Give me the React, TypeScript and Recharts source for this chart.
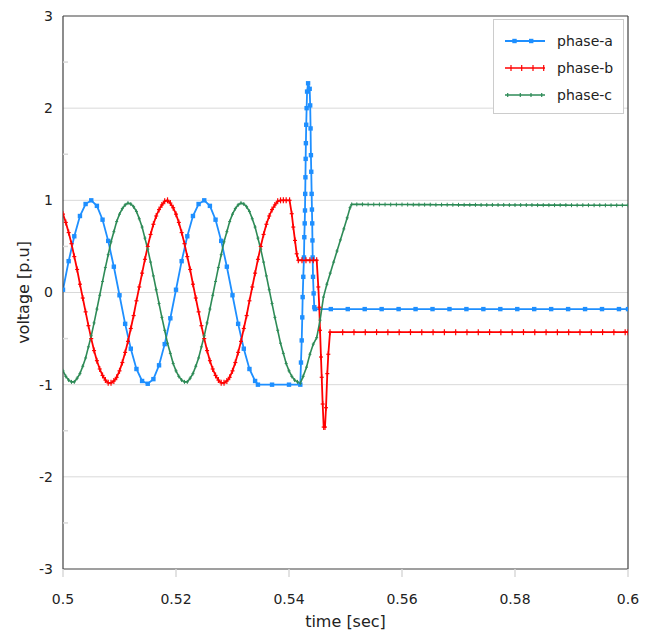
import { LineChart, Line, XAxis, YAxis, CartesianGrid, ReferenceLine, Legend } from 'recharts';

// [time (s), voltage (p.u)] samples
const phaseA: [number, number][] = [
  [0.500, 0.03], [0.501, 0.34], [0.502, 0.61], [0.503, 0.83], [0.504, 0.96],
  [0.505, 1.00], [0.506, 0.94], [0.507, 0.79], [0.508, 0.56], [0.509, 0.28],
  [0.510, -0.03], [0.511, -0.34], [0.512, -0.61], [0.513, -0.83], [0.514, -0.96],
  [0.515, -0.99], [0.516, -0.94], [0.517, -0.79], [0.518, -0.56], [0.519, -0.28],
  [0.520, 0.03], [0.521, 0.34], [0.522, 0.61], [0.523, 0.83], [0.524, 0.96],
  [0.525, 1.00], [0.526, 0.94], [0.527, 0.79], [0.528, 0.56], [0.529, 0.28],
  [0.530, -0.03], [0.531, -0.34], [0.532, -0.61], [0.533, -0.83], [0.534, -0.96],
  [0.5345, -1.0], [0.537, -1.0], [0.540, -1.0], [0.542, -1.0],
  [0.54212, -0.76], [0.54225, -0.52], [0.54235, -0.27], [0.54242, -0.05], [0.54253, 0.17],
  [0.54265, 0.38], [0.54271, 0.60], [0.54278, 0.75], [0.54283, 0.89], [0.54287, 1.07],
  [0.54291, 1.25], [0.54295, 1.45], [0.54299, 1.62], [0.54305, 1.82], [0.54312, 2.0],
  [0.5432, 2.18], [0.54338, 2.27], [0.54366, 2.21], [0.54375, 2.03], [0.54382, 1.78],
  [0.54388, 1.49], [0.54394, 1.31], [0.54401, 1.07], [0.54406, 0.9], [0.54411, 0.75],
  [0.54415, 0.565], [0.54419, 0.38], [0.54425, 0.17], [0.54436, -0.01], [0.54448, -0.16],
  [0.5446, -0.18], [0.5474, -0.18], [0.5504, -0.18], [0.5534, -0.18], [0.5564, -0.18],
  [0.5594, -0.18], [0.5624, -0.18], [0.5654, -0.18], [0.5684, -0.18], [0.5714, -0.18],
  [0.5744, -0.18], [0.5774, -0.18], [0.5804, -0.18], [0.5834, -0.18], [0.5864, -0.18],
  [0.5894, -0.18], [0.5924, -0.18], [0.5954, -0.18], [0.5984, -0.18], [0.6, -0.18],
];

const phaseB: [number, number][] = [
  [0.5000, 0.85], [0.5005, 0.76], [0.5010, 0.65], [0.5015, 0.53], [0.5020, 0.39],
  [0.5025, 0.25], [0.5030, 0.09], [0.5035, -0.06], [0.5040, -0.21], [0.5045, -0.36],
  [0.5050, -0.50], [0.5055, -0.63], [0.5060, -0.74], [0.5065, -0.83], [0.5070, -0.90],
  [0.5075, -0.95], [0.5080, -0.98], [0.5085, -0.98], [0.5090, -0.96], [0.5095, -0.92],
  [0.5100, -0.85], [0.5105, -0.76], [0.5110, -0.65], [0.5115, -0.53], [0.5120, -0.39],
  [0.5125, -0.25], [0.5130, -0.09], [0.5135, 0.06], [0.5140, 0.21], [0.5145, 0.36],
  [0.5150, 0.50], [0.5155, 0.63], [0.5160, 0.74], [0.5165, 0.83], [0.5170, 0.90],
  [0.5175, 0.95], [0.5180, 0.99], [0.5185, 1.00], [0.5190, 0.97], [0.5195, 0.92],
  [0.5200, 0.85], [0.5205, 0.76], [0.5210, 0.65], [0.5215, 0.53], [0.5220, 0.39],
  [0.5225, 0.25], [0.5230, 0.09], [0.5235, -0.06], [0.5240, -0.21], [0.5245, -0.36],
  [0.5250, -0.50], [0.5255, -0.63], [0.5260, -0.74], [0.5265, -0.83], [0.5270, -0.90],
  [0.5275, -0.95], [0.5280, -0.98], [0.5285, -0.98], [0.5290, -0.96], [0.5295, -0.92],
  [0.5300, -0.85], [0.5305, -0.76], [0.5310, -0.65], [0.5315, -0.53], [0.5320, -0.39],
  [0.5325, -0.25], [0.5330, -0.09], [0.5335, 0.06], [0.5340, 0.21], [0.5345, 0.36],
  [0.5350, 0.50], [0.5355, 0.63], [0.5360, 0.74], [0.5365, 0.83], [0.5370, 0.90],
  [0.5375, 0.95], [0.5380, 0.99], [0.5385, 1.00], [0.5390, 1.0], [0.5395, 1.0],
  [0.5401, 1.0], [0.54048, 0.855], [0.54076, 0.71], [0.54106, 0.565], [0.54136, 0.42],
  [0.54165, 0.35], [0.5423, 0.35], [0.543, 0.35], [0.5437, 0.35], [0.5443, 0.35],
  [0.5449, 0.35], [0.54519, 0.06], [0.54536, -0.16], [0.54549, -0.41], [0.54566, -0.70],
  [0.54579, -0.92], [0.54596, -1.21], [0.54614, -1.46], [0.54637, -1.46], [0.54655, -1.25],
  [0.54678, -0.88], [0.54696, -0.67], [0.54726, -0.43], [0.5495, -0.43], [0.5515, -0.43],
  [0.5535, -0.43], [0.5555, -0.43], [0.5575, -0.43], [0.5595, -0.43], [0.5615, -0.43],
  [0.5635, -0.43], [0.5655, -0.43], [0.5675, -0.43], [0.5695, -0.43], [0.5715, -0.43],
  [0.5735, -0.43], [0.5755, -0.43], [0.5775, -0.43], [0.5795, -0.43], [0.5815, -0.43],
  [0.5835, -0.43], [0.5855, -0.43], [0.5875, -0.43], [0.5895, -0.43], [0.5915, -0.43],
  [0.5935, -0.43], [0.5955, -0.43], [0.5975, -0.43], [0.5995, -0.43], [0.6, -0.43],
];

const phaseC: [number, number][] = [
  [0.5000, -0.85], [0.5005, -0.91], [0.5010, -0.95], [0.5015, -0.97], [0.5020, -0.97],
  [0.5025, -0.93], [0.5030, -0.88], [0.5035, -0.80], [0.5040, -0.71], [0.5045, -0.59],
  [0.5050, -0.47], [0.5055, -0.33], [0.5060, -0.18], [0.5065, -0.03], [0.5070, 0.12],
  [0.5075, 0.27], [0.5080, 0.41], [0.5085, 0.55], [0.5090, 0.66], [0.5095, 0.77],
  [0.5100, 0.85], [0.5105, 0.91], [0.5110, 0.95], [0.5115, 0.97], [0.5120, 0.96],
  [0.5125, 0.93], [0.5130, 0.88], [0.5135, 0.80], [0.5140, 0.71], [0.5145, 0.59],
  [0.5150, 0.47], [0.5155, 0.33], [0.5160, 0.18], [0.5165, 0.03], [0.5170, -0.12],
  [0.5175, -0.27], [0.5180, -0.41], [0.5185, -0.55], [0.5190, -0.66], [0.5195, -0.77],
  [0.5200, -0.85], [0.5205, -0.91], [0.5210, -0.95], [0.5215, -0.97], [0.5220, -0.97],
  [0.5225, -0.93], [0.5230, -0.88], [0.5235, -0.80], [0.5240, -0.71], [0.5245, -0.59],
  [0.5250, -0.47], [0.5255, -0.33], [0.5260, -0.18], [0.5265, -0.03], [0.5270, 0.12],
  [0.5275, 0.27], [0.5280, 0.41], [0.5285, 0.55], [0.5290, 0.66], [0.5295, 0.77],
  [0.5300, 0.85], [0.5305, 0.91], [0.5310, 0.95], [0.5315, 0.97], [0.5320, 0.96],
  [0.5325, 0.93], [0.5330, 0.88], [0.5335, 0.80], [0.5340, 0.71], [0.5345, 0.59],
  [0.5350, 0.47], [0.5355, 0.33], [0.5360, 0.18], [0.5365, 0.03], [0.5370, -0.12],
  [0.5375, -0.27], [0.5380, -0.41], [0.5385, -0.55], [0.5390, -0.66], [0.5395, -0.77],
  [0.5400, -0.85], [0.5405, -0.91], [0.5410, -0.95], [0.5415, -0.97], [0.5420, -0.985],
  [0.5425, -0.91], [0.5431, -0.81], [0.5437, -0.67], [0.5443, -0.56], [0.5449, -0.49],
  [0.5455, -0.30], [0.5461, -0.05], [0.5467, 0.09], [0.5473, 0.21], [0.5479, 0.33],
  [0.5485, 0.45], [0.5491, 0.57], [0.5497, 0.69], [0.5503, 0.81], [0.5508, 0.92],
  [0.5511, 0.956], [0.552, 0.956], [0.553, 0.956], [0.554, 0.955], [0.555, 0.955],
  [0.556, 0.955], [0.557, 0.955], [0.558, 0.954], [0.559, 0.954], [0.560, 0.954],
  [0.561, 0.954], [0.562, 0.953], [0.563, 0.953], [0.564, 0.953], [0.565, 0.953],
  [0.566, 0.952], [0.567, 0.952], [0.568, 0.952], [0.569, 0.952], [0.570, 0.951],
  [0.571, 0.951], [0.572, 0.951], [0.573, 0.951], [0.574, 0.950], [0.575, 0.950],
  [0.576, 0.950], [0.577, 0.950], [0.578, 0.950], [0.579, 0.949], [0.580, 0.949],
  [0.581, 0.949], [0.582, 0.949], [0.583, 0.949], [0.584, 0.948], [0.585, 0.948],
  [0.586, 0.948], [0.587, 0.948], [0.588, 0.948], [0.589, 0.948], [0.590, 0.947],
  [0.591, 0.947], [0.592, 0.947], [0.593, 0.947], [0.594, 0.947], [0.595, 0.947],
  [0.596, 0.946], [0.597, 0.946], [0.598, 0.946], [0.599, 0.946], [0.600, 0.946],
];

const xTicks = [0.5, 0.52, 0.54, 0.56, 0.58, 0.6];
const yTicks = [-3, -2.5, -2, -1.5, -1, -0.5, 0, 0.5, 1, 1.5, 2, 2.5, 3];
const gridValues = [-2, -1, 0, 1, 2];
const seriesNames = ['phase-a', 'phase-b', 'phase-c'];

const BLUE = '#1e8fff';
const RED = '#ff0000';
const GREEN = '#2e8b57';
const AXIS = '#404040';
const GRID = '#d9d9d9';
const FONT = '"DejaVu Sans", sans-serif';

const toRows = (pts: [number, number][]) => pts.map(([t, v]) => ({ t, v }));

const squareDot = (p: any) => {
  if (p.cx == null || p.cy == null) return <g key={p.index} />;
  return <rect key={p.index} x={p.cx - 2.2} y={p.cy - 2.2} width={4.4} height={4.4} fill={BLUE} />;
};

const plusDot = (color: string, h: number, w: number, sw: number) => (p: any) => {
  if (p.cx == null || p.cy == null) return <g key={p.index} />;
  return (
    <g key={p.index} stroke={color} strokeWidth={sw}>
      <line x1={p.cx} x2={p.cx} y1={p.cy - h} y2={p.cy + h} />
      <line x1={p.cx - w} x2={p.cx + w} y1={p.cy} y2={p.cy} />
    </g>
  );
};

const YTick = (p: any) => {
  const v = p.payload.value;
  if (!Number.isInteger(v)) {
    return <line key={p.index} x1={p.x + 10} x2={p.x + 15} y1={p.y} y2={p.y} stroke={GRID} strokeWidth={1.5} />;
  }
  return (
    <text key={p.index} x={p.x} y={p.y} dy="0.355em" textAnchor="end" fontSize={14} fill="#222" fontFamily={FONT}>
      {v}
    </text>
  );
};

const YLabel = (p: any) => {
  const vb = p.viewBox;
  const cx = vb.x + 0.5;
  const cy = vb.y + vb.height / 2;
  return (
    <text transform={`translate(${cx},${cy}) rotate(-90)`} dy="0.355em" textAnchor="middle" fontSize={16} fill="#222" fontFamily={FONT}>
      voltage [p.u]
    </text>
  );
};

function LegendSymbol({ idx }: { idx: number }) {
  if (idx === 0) {
    return (
      <svg width={40} height={10}>
        <line x1={0} x2={40} y1={5} y2={5} stroke={BLUE} strokeWidth={1.8} />
        <rect x={7.3} y={2.8} width={4.4} height={4.4} fill={BLUE} />
        <rect x={24} y={2.8} width={4.4} height={4.4} fill={BLUE} />
      </svg>
    );
  }
  const color = idx === 1 ? RED : GREEN;
  const xs = idx === 1 ? [6, 16.7, 28, 38.7] : [2.7, 15.3, 26, 36.7];
  const h = idx === 1 ? 3 : 2;
  return (
    <svg width={40} height={10}>
      <line x1={0} x2={40} y1={5} y2={5} stroke={color} strokeWidth={1.6} />
      {xs.map((x) => (
        <line key={x} x1={x} x2={x} y1={5 - h} y2={5 + h} stroke={color} strokeWidth={1.2} />
      ))}
    </svg>
  );
}

const legendContent = () => (
  <div
    style={{
      width: 131,
      height: 95,
      boxSizing: 'border-box',
      border: '1px solid #cccccc',
      background: '#fff',
      paddingTop: 8,
      fontFamily: FONT,
      fontSize: 14,
      color: '#222',
    }}
  >
    {seriesNames.map((name, i) => (
      <div key={name} style={{ display: 'flex', alignItems: 'center', height: 26.7, paddingLeft: 11 }}>
        <LegendSymbol idx={i} />
        <span style={{ marginLeft: 12 }}>{name}</span>
      </div>
    ))}
  </div>
);

export default function App() {
  return (
    <div style={{ position: 'absolute', left: 0, top: 0, width: 651, height: 633, background: '#fff', fontFamily: FONT }}>
      <LineChart width={651} height={633} margin={{ top: 16, right: 23, bottom: 0, left: 23 }}>
        <CartesianGrid vertical={false} horizontalValues={gridValues} stroke={GRID} strokeWidth={1} />
        <XAxis
          dataKey="t"
          type="number"
          domain={[0.5, 0.6]}
          ticks={xTicks}
          allowDataOverflow
          height={64}
          tickSize={8}
          tickMargin={17}
          tickLine={{ stroke: GRID, strokeWidth: 1.5 }}
          axisLine={{ stroke: AXIS, strokeWidth: 1.2 }}
          tick={{ fill: '#222', fontSize: 14, fontFamily: FONT }}
          label={{ value: 'time [sec]', position: 'insideBottom', offset: 6, fill: '#222', fontSize: 16, fontFamily: FONT }}
        />
        <YAxis
          type="number"
          domain={[-3, 3]}
          ticks={yTicks}
          interval={0}
          allowDataOverflow
          width={40}
          tickSize={6}
          tickMargin={4}
          tickLine={false}
          axisLine={{ stroke: AXIS, strokeWidth: 1.2 }}
          tick={YTick}
          label={{ content: YLabel }}
        />
        <ReferenceLine y={3} stroke={AXIS} strokeWidth={1.2} />
        <ReferenceLine x={0.6} stroke={AXIS} strokeWidth={1.2} />
        <Line
          data={toRows(phaseA)}
          dataKey="v"
          name={seriesNames[0]}
          type="linear"
          stroke={BLUE}
          strokeWidth={1.8}
          dot={squareDot}
          activeDot={false}
          isAnimationActive={false}
        />
        <Line
          data={toRows(phaseB)}
          dataKey="v"
          name={seriesNames[1]}
          type="linear"
          stroke={RED}
          strokeWidth={1.8}
          dot={plusDot(RED, 3, 2, 1.2)}
          activeDot={false}
          isAnimationActive={false}
        />
        <Line
          data={toRows(phaseC)}
          dataKey="v"
          name={seriesNames[2]}
          type="linear"
          stroke={GREEN}
          strokeWidth={1.6}
          dot={plusDot(GREEN, 2, 1.5, 1)}
          activeDot={false}
          isAnimationActive={false}
        />
        <Legend
          layout="vertical"
          align="center"
          verticalAlign="middle"
          content={legendContent}
          wrapperStyle={{ left: 493, top: 19, width: 131, height: 95 }}
        />
      </LineChart>
    </div>
  );
}
